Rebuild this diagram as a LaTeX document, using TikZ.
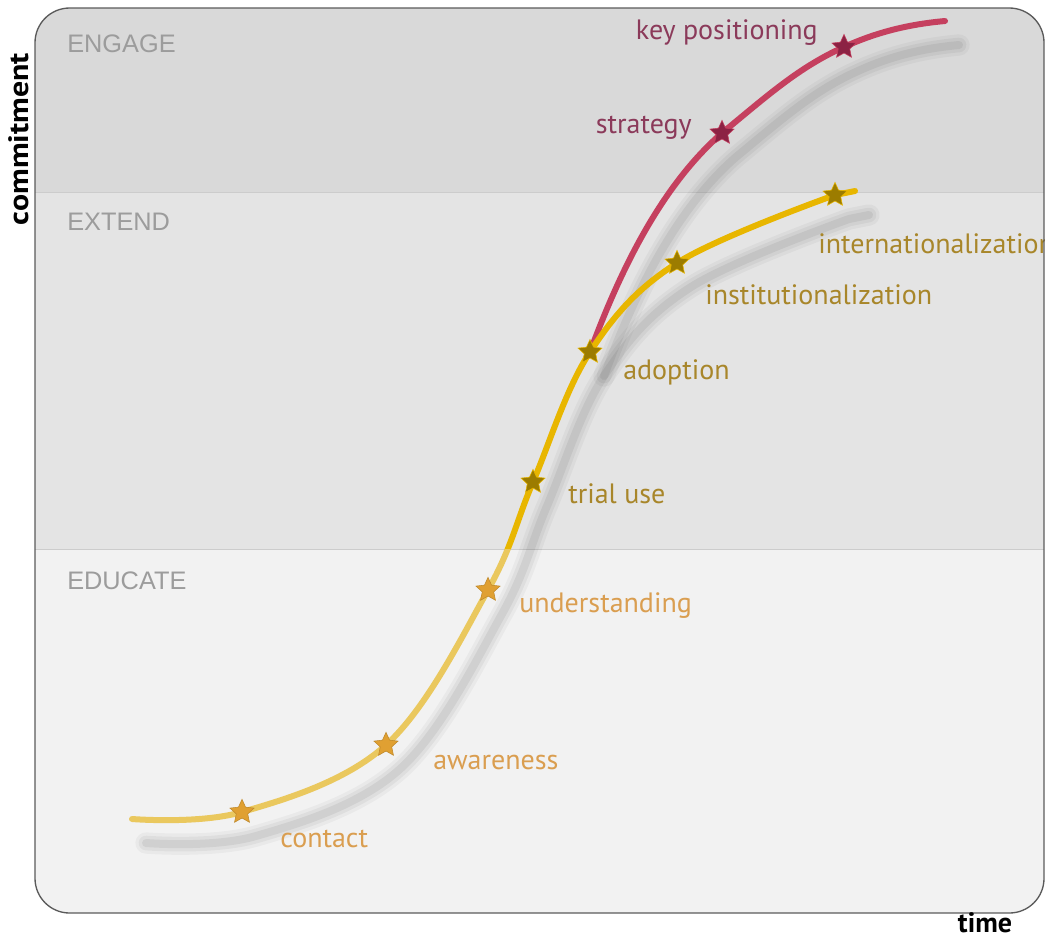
\documentclass[tikz,border=0pt]{standalone}
\usepackage{fontspec}
\setmainfont{PT Sans}
\newfontfamily\bandfont{Liberation Sans}
\usetikzlibrary{shapes.geometric}

\definecolor{engagebg}{HTML}{D9D9D9}
\definecolor{extendbg}{HTML}{E4E4E4}
\definecolor{educatebg}{HTML}{F2F2F2}
\definecolor{bandgray}{HTML}{9C9C9C}
\definecolor{frame}{HTML}{5A5A5A}
\definecolor{lightgold}{HTML}{EAC85E}
\definecolor{gold}{HTML}{E8B600}
\definecolor{rose}{HTML}{C5405F}
\definecolor{starlow}{HTML}{E0A032}
\definecolor{starmid}{HTML}{9C7C00}
\definecolor{starrose}{HTML}{8C2244}
\definecolor{textlow}{HTML}{DA9E50}
\definecolor{textmid}{HTML}{A8862A}
\definecolor{textrose}{HTML}{8B3A5A}

\tikzset{
  bandlabel/.style={anchor=base west, inner sep=0pt, text=bandgray, font=\bandfont\fontsize{19}{22}\selectfont},
  stagelabel/.style={inner sep=0pt, font=\fontsize{21}{24}\selectfont},
  axislabel/.style={inner sep=0pt, font=\bfseries\fontsize{21}{24}\selectfont},
  stagestar/.style={star, star points=5, star point ratio=2.1, minimum size=19pt, inner sep=0pt},
  shadowline/.style={line cap=round, black, transform canvas={shift={(14,24)}}},
  curve/.style={line width=4.5pt, line cap=round}
}

\newcommand{\goldpath}{plot[smooth, tension=0.6] coordinates {(start) (contact) (awareness) (understanding) (trial) (adoption) (inst) (intl)} -- (goldend)}
\newcommand{\rosepath}{(adoption) .. controls (625,257) and (667,181) .. (strategy) .. controls (767,96) and (799,67) .. (keypos) .. controls (879,31) and (912,24) .. (roseend)}

\begin{document}
\begin{tikzpicture}[x=0.75pt, y=-0.75pt]
  \useasboundingbox (0,0) rectangle (1045,940);

  % bands
  \begin{scope}
    \clip[rounded corners=26] (35,8) rectangle (1044,913);
    \fill[engagebg] (35,8) rectangle (1044,192);
    \fill[extendbg] (35,192) rectangle (1044,549);
    \fill[educatebg] (35,549) rectangle (1044,913);
    \draw[black!20] (35,192) to (1044,192);
    \draw[black!20] (35,549) to (1044,549);
  \end{scope}

  \node[bandlabel] (engage) at (67,52) {ENGAGE};
  \node[bandlabel] (extend) at (67,230) {EXTEND};
  \node[bandlabel] (educate) at (67,589) {EDUCATE};

  % stages
  \coordinate (start) at (132,819);
  \coordinate (contact) at (242,812);
  \coordinate (awareness) at (386,745);
  \coordinate (understanding) at (488,590);
  \coordinate (trial) at (533,482);
  \coordinate (adoption) at (590,352);
  \coordinate (inst) at (677,263);
  \coordinate (intl) at (835,195);
  \coordinate (goldend) at (855,191);
  \coordinate (strategy) at (722,133);
  \coordinate (keypos) at (844,47);
  \coordinate (roseend) at (945,21);

  % shadows
  \foreach \w/\o in {16/0.035, 11/0.045, 6/0.06}{
    \draw[shadowline, line width=\w pt, opacity=\o] \goldpath;
    \draw[shadowline, line width=\w pt, opacity=\o] \rosepath;
  }

  % curves
  \draw[curve, rose] \rosepath;
  \begin{scope}
    \clip (0,0) rectangle (1045,549);
    \draw[curve, gold] \goldpath;
  \end{scope}
  \begin{scope}
    \clip (0,549) rectangle (1045,940);
    \draw[curve, lightgold] \goldpath;
  \end{scope}

  \node[stagestar, fill=starlow, draw=starlow!85!black] (s-contact) at (contact) {};
  \node[stagestar, fill=starlow, draw=starlow!85!black] (s-awareness) at (awareness) {};
  \node[stagestar, fill=starlow, draw=starlow!85!black] (s-understanding) at (understanding) {};
  \node[stagestar, fill=starmid, draw=gold] (s-trial) at (trial) {};
  \node[stagestar, fill=starmid, draw=gold] (s-adoption) at (adoption) {};
  \node[stagestar, fill=starmid, draw=gold] (s-inst) at (inst) {};
  \node[stagestar, fill=starmid, draw=gold] (s-intl) at (intl) {};
  \node[stagestar, fill=starrose, draw=rose] (s-strategy) at (strategy) {};
  \node[stagestar, fill=starrose, draw=rose] (s-keypos) at (keypos) {};

  \node[stagelabel, anchor=base west, text=textlow] (l-contact) at (280,847) {contact};
  \node[stagelabel, anchor=base west, text=textlow] (l-awareness) at (433,769) {awareness};
  \node[stagelabel, anchor=base west, text=textlow] (l-understanding) at (519,612) {understanding};
  \node[stagelabel, anchor=base west, text=textmid] (l-trial) at (568,503) {trial use};
  \node[stagelabel, anchor=base west, text=textmid] (l-adoption) at (623,379) {adoption};
  \node[stagelabel, anchor=base west, text=textmid] (l-inst) at (705,304) {institutionalization};
  \node[stagelabel, anchor=base west, text=textmid] (l-intl) at (818,253) {internationalization};
  \node[stagelabel, anchor=base east, text=textrose] (l-strategy) at (692,133) {strategy};
  \node[stagelabel, anchor=base east, text=textrose] (l-keypos) at (818,39) {key positioning};

  % frame and axes
  \draw[frame, line width=1pt, rounded corners=26] (35,8) rectangle (1044,913);
  \node[axislabel, rotate=90, anchor=base] (commitment) at (28,139) {\scalebox{1.14}[1]{commitment}};
  \node[axislabel, anchor=base] (time) at (985,932) {time};
\end{tikzpicture}
\end{document}
